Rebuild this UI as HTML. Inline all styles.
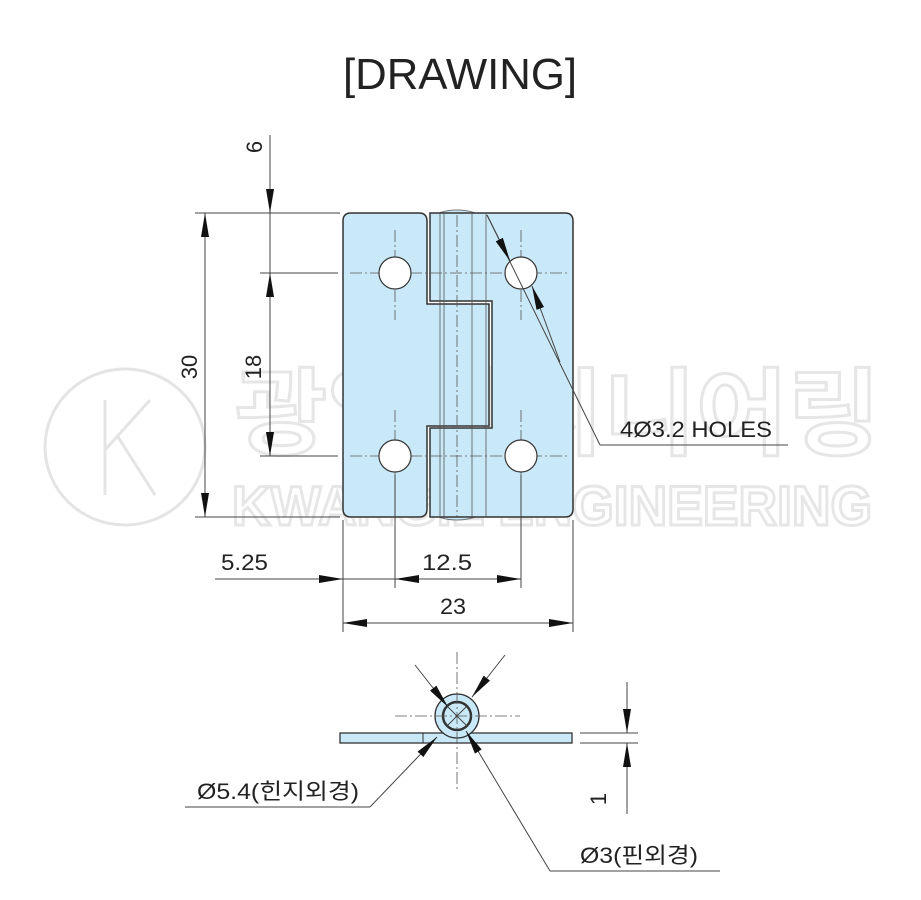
<!DOCTYPE html>
<html><head><meta charset="utf-8">
<style>
html,body{margin:0;padding:0;background:#fff;}
svg{display:block;}
text{font-family:"Liberation Sans","Noto Sans CJK KR",sans-serif;fill:#222;}
</style></head>
<body>
<svg width="921" height="900" viewBox="0 0 921 900" xmlns="http://www.w3.org/2000/svg">
<defs>
<marker id="a" viewBox="0 0 24 8" refX="24" refY="4" markerWidth="24" markerHeight="8" markerUnits="userSpaceOnUse" orient="auto"><path d="M0,0 L24,4 L0,8 z" fill="#111"/></marker>
</defs>
<!-- watermark -->
<g fill="none" stroke="#e4e4e4" stroke-width="3">
<ellipse cx="125" cy="447" rx="80" ry="78"/>
<path d="M105,400 V495 M105,450 L150,400 M118,437 L155,495"/>
</g>
<text x="235" y="447" font-size="95" font-weight="bold" style="fill:none;stroke:#e6e6e6;stroke-width:3" textLength="645" lengthAdjust="spacingAndGlyphs">광일엔지니어링</text>
<text x="232" y="525" font-size="56" font-weight="bold" style="fill:none;stroke:#e6e6e6;stroke-width:3" textLength="640" lengthAdjust="spacingAndGlyphs">KWANGIL ENGINEERING</text>

<text x="343" y="89" font-size="44" fill="#222" textLength="234" lengthAdjust="spacingAndGlyphs">[DRAWING]</text>

<!-- hinge front -->
<g stroke="#333" stroke-width="1.5" fill="#c9e9f9">
<ellipse cx="457" cy="218" rx="23" ry="8" stroke-width="1" stroke="#777"/>
<ellipse cx="457" cy="512" rx="23" ry="8" stroke-width="1" stroke="#777"/>
<path d="M351,213 H419 Q427,213 427,221 V304 H489 V426 H427 V509 Q427,517 419,517 H351 Q343,517 343,509 V221 Q343,213 351,213 Z"/>
<path d="M430,213 H565 Q573,213 573,221 V509 Q573,517 565,517 H430 V428 H492 V301 H430 Z"/>
</g>
<g stroke="#555" stroke-width="0.8" fill="none">
<line x1="440" y1="213" x2="440" y2="517"/><line x1="444" y1="213" x2="444" y2="517"/>
<line x1="472" y1="213" x2="472" y2="517"/><line x1="486" y1="213" x2="486" y2="517"/>
</g>
<g stroke="#555" stroke-width="0.8" stroke-dasharray="12,3,2,3" fill="none">
<line x1="350" y1="273" x2="570" y2="273"/><line x1="350" y1="456" x2="570" y2="456"/>
<line x1="395" y1="230" x2="395" y2="320"/><line x1="521" y1="230" x2="521" y2="320"/>
<line x1="395" y1="410" x2="395" y2="500"/><line x1="521" y1="410" x2="521" y2="500"/>
<line x1="457" y1="215" x2="457" y2="517"/>
</g>
<g fill="#fff" stroke="#333" stroke-width="1.2">
<circle cx="395" cy="273" r="16"/><circle cx="521" cy="273" r="16"/>
<circle cx="395" cy="456" r="16"/><circle cx="521" cy="456" r="16"/>
</g>

<!-- dims -->
<g stroke="#444" stroke-width="1" fill="none">
<line x1="195" y1="213" x2="340" y2="213"/>
<line x1="260" y1="273" x2="338" y2="273"/>
<line x1="260" y1="456" x2="338" y2="456"/>
<line x1="195" y1="517" x2="340" y2="517"/>
<line x1="205" y1="260" x2="205" y2="213" marker-end="url(#a)"/>
<line x1="205" y1="470" x2="205" y2="517" marker-end="url(#a)"/>
<line x1="205" y1="260" x2="205" y2="470"/>
<line x1="270" y1="135" x2="270" y2="213" marker-end="url(#a)"/>
<line x1="270" y1="213" x2="270" y2="456" marker-end="url(#a)"/>
<line x1="270" y1="340" x2="270" y2="273" marker-end="url(#a)"/>
<line x1="343" y1="520" x2="343" y2="632"/>
<line x1="395" y1="475" x2="395" y2="588"/>
<line x1="521" y1="475" x2="521" y2="588"/>
<line x1="573" y1="520" x2="573" y2="632"/>
<line x1="215" y1="579" x2="343" y2="579" marker-end="url(#a)"/>
<line x1="343" y1="579" x2="395" y2="579"/>
<line x1="460" y1="579" x2="395" y2="579" marker-end="url(#a)"/>
<line x1="460" y1="579" x2="521" y2="579" marker-end="url(#a)"/>
<line x1="458" y1="623" x2="343" y2="623" marker-end="url(#a)"/>
<line x1="458" y1="623" x2="573" y2="623" marker-end="url(#a)"/>
<line x1="487" y1="215" x2="600" y2="445"/>
<line x1="600" y1="445" x2="788" y2="445"/>
<line x1="487" y1="215" x2="510" y2="261" marker-end="url(#a)"/>
<line x1="560" y1="362" x2="532" y2="286" marker-end="url(#a)"/>
</g>
<text x="265" y="150" font-size="22" transform="rotate(-90 262 150)" text-anchor="middle">6</text>
<text x="200" y="370" font-size="22" transform="rotate(-90 197 370)" text-anchor="middle">30</text>
<text x="264" y="370" font-size="22" transform="rotate(-90 261 370)" text-anchor="middle">18</text>
<text x="221" y="570" font-size="22" textLength="47" lengthAdjust="spacingAndGlyphs">5.25</text>
<text x="422" y="570" font-size="22" textLength="50" lengthAdjust="spacingAndGlyphs">12.5</text>
<text x="440" y="614" font-size="22" textLength="26" lengthAdjust="spacingAndGlyphs">23</text>
<text x="620" y="437" font-size="22" textLength="152" lengthAdjust="spacingAndGlyphs">4Ø3.2 HOLES</text>

<!-- side view -->
<g stroke="#333" stroke-width="1.3" fill="#c9e9f9">
<rect x="340" y="733" width="232" height="10"/>
<circle cx="457" cy="716" r="22"/>
<circle cx="457" cy="716" r="14" stroke-width="2.5"/>
</g>
<line x1="423" y1="733" x2="423" y2="743" stroke="#333"/>
<g stroke="#555" stroke-width="0.8" stroke-dasharray="12,3,2,3">
<line x1="395" y1="716" x2="520" y2="716"/>
<line x1="457" y1="652" x2="457" y2="790"/>
</g>
<g stroke="#444" stroke-width="1" fill="none">
<line x1="415" y1="665" x2="448" y2="707" marker-end="url(#a)"/>
<line x1="505" y1="655" x2="472" y2="697" marker-end="url(#a)"/>
<line x1="448" y1="707" x2="467" y2="726"/>
<line x1="466" y1="707" x2="447" y2="726"/>
<line x1="370" y1="807" x2="185" y2="807"/>
<line x1="370" y1="807" x2="437" y2="737" marker-end="url(#a)"/>
<line x1="550" y1="871" x2="720" y2="871"/>
<line x1="550" y1="871" x2="466" y2="731" marker-end="url(#a)"/>
<line x1="580" y1="733" x2="638" y2="733"/>
<line x1="580" y1="743" x2="638" y2="743"/>
<line x1="627" y1="682" x2="627" y2="733" marker-end="url(#a)"/>
<line x1="627" y1="814" x2="627" y2="743" marker-end="url(#a)"/>
</g>
<text x="197" y="799" font-size="22" textLength="162" lengthAdjust="spacingAndGlyphs">Ø5.4(힌지외경)</text>
<text x="580" y="863" font-size="22" textLength="118" lengthAdjust="spacingAndGlyphs">Ø3(핀외경)</text>
<text x="610" y="803" font-size="22" transform="rotate(-90 606 803)" text-anchor="middle">1</text>
</svg>
</body></html>
